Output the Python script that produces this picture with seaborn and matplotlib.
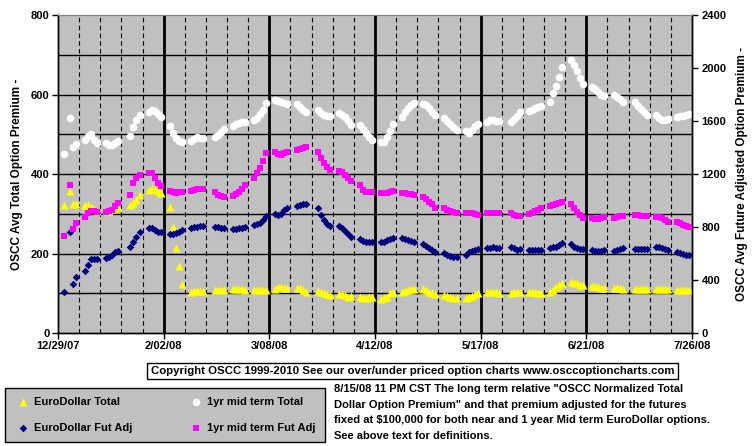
import numpy as np
import pandas as pd
import matplotlib
matplotlib.use("Agg")
import matplotlib.pyplot as plt
import matplotlib.dates as mdates
import seaborn as sns

nan = np.nan

# trading days, one row of five per week (nan = market closed / no point)
dates = pd.bdate_range("2007-12-31", "2008-07-25")

# left axis series
eurodollar_total = [
    322, nan, 356, 325, 325,  323, 321, 318, 312, 308,  307, 308, 311, 314, 316,
    nan, 322, 326, 334, 346,  360, 364, 362, 358, 351,  318, 267, 213, 168, 123,
    104, 105, 106, 106, 105,  nan, 107, 108, 108, 108,  110, 111, 111, 110, 109,
    108, 108, 109, 109, 109,  110, 116, 116, 114, 113,  114, 114, 108, 104, nan,
    106, 102, 100, 97, 96,    99, 97, 95, 91, 92,       91, 89, 89, 90, 90,
    85, 87, 91, 100, 104,     104, 106, 109, 111, 110,  110, 107, 103, 100, 97,
    96, 93, 90, 88, 87,       88, 91, 94, 97, 100,      102, 103, 103, 102, 100,
    nan, 100, 103, 104, 102,  104, 102, 102, 101, 101,  103, 108, 115, 121, 126,
    128, 127, 125, 122, 120,  118, 117, 116, 114, 114,  113, 112, 112, 111, nan,
    111, 111, 110, 110, 110,  111, 111, 110, 110, 110,  108, 108, 108, 108, 108,
]
midterm_total = [
    450, nan, 542, 469, 476,  486, 496, 500, 486, 477,  477, 473, 474, 477, 482,
    nan, 496, 517, 536, 548,  555, 561, 558, 550, 543,  521, 502, 491, 484, 481,
    484, 487, 492, 491, 490,  nan, 493, 498, 505, 512,  521, 525, 528, 530, 532,
    536, 540, 550, 562, 578,  586, 583, 580, 578, 576,  575, 568, 561, 556, nan,
    560, 553, 548, 546, 547,  553, 549, 543, 533, 523,  523, 513, 503, 493, 486,
    480, 481, 492, 508, 527,  544, 556, 566, 574, 579,  577, 573, 567, 557, 548,
    540, 533, 525, 517, 510,  509, 504, 510, 520, 527,  531, 535, 536, 534, 533,
    nan, 530, 538, 547, 555,  558, 562, 566, 569, 571,  582, 603, 622, 645, 670,
    687, 674, 658, 641, 626,  620, 614, 607, 600, 597,  600, 594, 588, 582, nan,
    580, 572, 563, 555, 549,  548, 542, 537, 536, 539,  543, 545, 547, 549, 550,
]

# right axis series
eurodollar_futadj = [
    306, nan, 762, 367, 425,  471, 513, 556, 556, 557,  565, 575, 590, 608, 619,
    nan, 652, 684, 727, 765,  795, 795, 778, 765, 760,  745, 745, 752, 765, 778,
    790, 798, 803, 808, 810,  nan, 803, 797, 793, 790,  783, 786, 790, 795, 800,
    812, 820, 830, 850, 880,  895, 888, 900, 925, 945,  960, 966, 970, 970, nan,
    946, 891, 855, 825, 805,  805, 792, 768, 745, 725,  712, 697, 690, 688, 689,
    684, 689, 702, 709, 719,  714, 709, 702, 695, 689,  669, 657, 644, 626, 614,
    602, 590, 580, 574, 571,  590, 608, 620, 628, 632,  639, 644, 646, 644, 642,
    nan, 646, 639, 626, 631,  626, 626, 629, 629, 629,  644, 649, 652, 664, 677,
    669, 652, 639, 634, 634,  626, 621, 621, 621, 626,  621, 626, 634, 639, nan,
    634, 636, 636, 636, 634,  646, 646, 641, 636, 629,  614, 601, 594, 589, 589,
]
midterm_futadj = [
    735, nan, 1117, 785, 828,     878, 903, 922, 918, 916,      914, 918, 930, 955, 980,
    nan, 1042, 1130, 1167, 1193,  1210, 1210, 1172, 1135, 1112, 1074, 1062, 1054, 1062, 1067,
    1074, 1079, 1087, 1087, 1084, nan, 1065, 1045, 1035, 1029,  1037, 1050, 1065, 1090, 1117,
    1167, 1210, 1248, 1298, 1356, 1369, 1350, 1340, 1355, 1369, 1378, 1386, 1399, 1406, nan,
    1369, 1323, 1281, 1256, 1230, 1225, 1218, 1195, 1170, 1147, 1117, 1079, 1067, 1062, 1067,
    1059, 1054, 1059, 1067, 1072, 1060, 1056, 1052, 1047, 1042, 1029, 1011, 991, 971, 946,
    941, 928, 918, 910, 903,      903, 904, 903, 898, 891,      903, 906, 908, 908, 908,
    nan, 906, 891, 885, 883,      896, 905, 918, 928, 941,      961, 966, 971, 979, 986,
    971, 941, 916, 891, 865,      865, 860, 860, 865, 873,      870, 878, 886, 886, nan,
    891, 891, 886, 883, 883,      878, 873, 865, 853, 840,      835, 828, 815, 808, 803,
]

left_ticks = [0, 200, 400, 600, 800]
right_ticks = [0, 400, 800, 1200, 1600, 2000, 2400]
date_ticks = pd.date_range("2007-12-29", "2008-07-26", freq="35D")
week_lines = pd.date_range("2007-12-29", "2008-07-26", freq="7D")

df = pd.DataFrame({
    "date": dates,
    "ed_total": eurodollar_total,
    "mid_total": midterm_total,
    "ed_fut": eurodollar_futadj,
    "mid_fut": midterm_futadj,
})

plt.rcParams["font.family"] = ["Liberation Sans", "DejaVu Sans"]
plt.rcParams["font.weight"] = "bold"
plt.rcParams["font.size"] = 8

fig = plt.figure(figsize=(7.55, 4.46), dpi=100)
ax = fig.add_axes([58 / 755, 1 - 333 / 446, 634 / 755, 318 / 446])
ax.set_facecolor("#C0C0C0")
ax2 = ax.twinx()

sns.scatterplot(data=df, x="date", y="ed_total", ax=ax, marker="^", s=34,
                color="#FFFF00", linewidth=0, label="EuroDollar Total", zorder=3)
sns.scatterplot(data=df, x="date", y="mid_total", ax=ax, marker="o", s=30,
                color="#FFFFFF", linewidth=0, label="1yr mid term Total", zorder=3)
sns.scatterplot(data=df, x="date", y="ed_fut", ax=ax2, marker="D", s=15,
                color="#000080", linewidth=0, label="EuroDollar Fut Adj", zorder=3)
sns.scatterplot(data=df, x="date", y="mid_fut", ax=ax2, marker="s", s=24,
                color="#FF00FF", linewidth=0, label="1yr mid term Fut Adj", zorder=3)

h1, l1 = ax.get_legend_handles_labels()
h2, l2 = ax2.get_legend_handles_labels()
for a in (ax, ax2):
    if a.get_legend():
        a.get_legend().remove()

# axes limits / ticks
ax.set_xlim(date_ticks[0], date_ticks[-1])
ax.set_ylim(0, 800)
ax2.set_ylim(0, 2400)
ax.set_yticks(left_ticks)
ax2.set_yticks(right_ticks)
ax.set_xticks(date_ticks)
ax.xaxis.set_major_formatter(mdates.DateFormatter("%-m/%d/%y"))
ax.tick_params(axis="both", which="major", length=4, width=1, direction="out",
               labelsize=8, pad=2)
ax2.tick_params(axis="y", length=4, width=1, direction="out", labelsize=8, pad=3)
ax.set_xlabel("")
ax.set_ylabel("OSCC Avg Total Option Premium -", fontsize=8.5, fontweight="bold", labelpad=6)
ax2.set_ylabel("OSCC Avg Future Adjusted Option Premium -", fontsize=8.5,
               fontweight="bold", labelpad=7)
ax2.yaxis.set_label_position("right")

# grid
ax.grid(False)
ax2.grid(False)
for y in np.arange(100, 800, 100):
    ax.axhline(y, color="black", lw=1.0, zorder=1)
for d in week_lines[1:-1]:
    if d in date_ticks:
        ax.axvline(d, color="black", lw=2.0, zorder=1)
    else:
        ax.axvline(d, color="black", lw=0.8, ls=(0, (4, 3)), zorder=1)

for a in (ax, ax2):
    for side in ("left", "right", "bottom"):
        a.spines[side].set_color("black")
        a.spines[side].set_linewidth(1.0)
    a.spines["top"].set_color("#808080")

# copyright box
fig.text(412.5 / 755, 1 - 371 / 446,
         "Copyright OSCC 1999-2010 See our over/under priced option charts www.osccoptioncharts.com",
         ha="center", va="center", fontsize=8.2, fontweight="bold",
         bbox=dict(boxstyle="square,pad=0.3", fc="white", ec="black", lw=1))

# legend
leg = fig.legend([h1[0], h2[0], h1[1], h2[1]], [l1[0], l2[0], l1[1], l2[1]],
                 ncol=2, loc="lower left",
                 bbox_to_anchor=(5 / 755, 4 / 446, 320 / 755, 55 / 446),
                 mode="expand", borderaxespad=0, fontsize=8, frameon=True,
                 fancybox=False, facecolor="#C0C0C0", edgecolor="black",
                 framealpha=1, borderpad=0.85, labelspacing=1.4,
                 handletextpad=0.2, handlelength=1.6, columnspacing=1.0)
leg.get_frame().set_linewidth(1.0)
for t in leg.get_texts():
    t.set_fontweight("bold")

note = ('8/15/08 11 PM CST The long term relative "OSCC Normalized Total\n'
        'Dollar Option Premium" and that premium adjusted for the futures\n'
        'fixed at $100,000 for both near and 1 year Mid term EuroDollar options.\n'
        'See above text for definitions.')
fig.text(334 / 755, 1 - 384 / 446, note, ha="left", va="top", fontsize=8,
         fontweight="bold", linespacing=1.7)

fig.savefig("out.png", dpi=100)
